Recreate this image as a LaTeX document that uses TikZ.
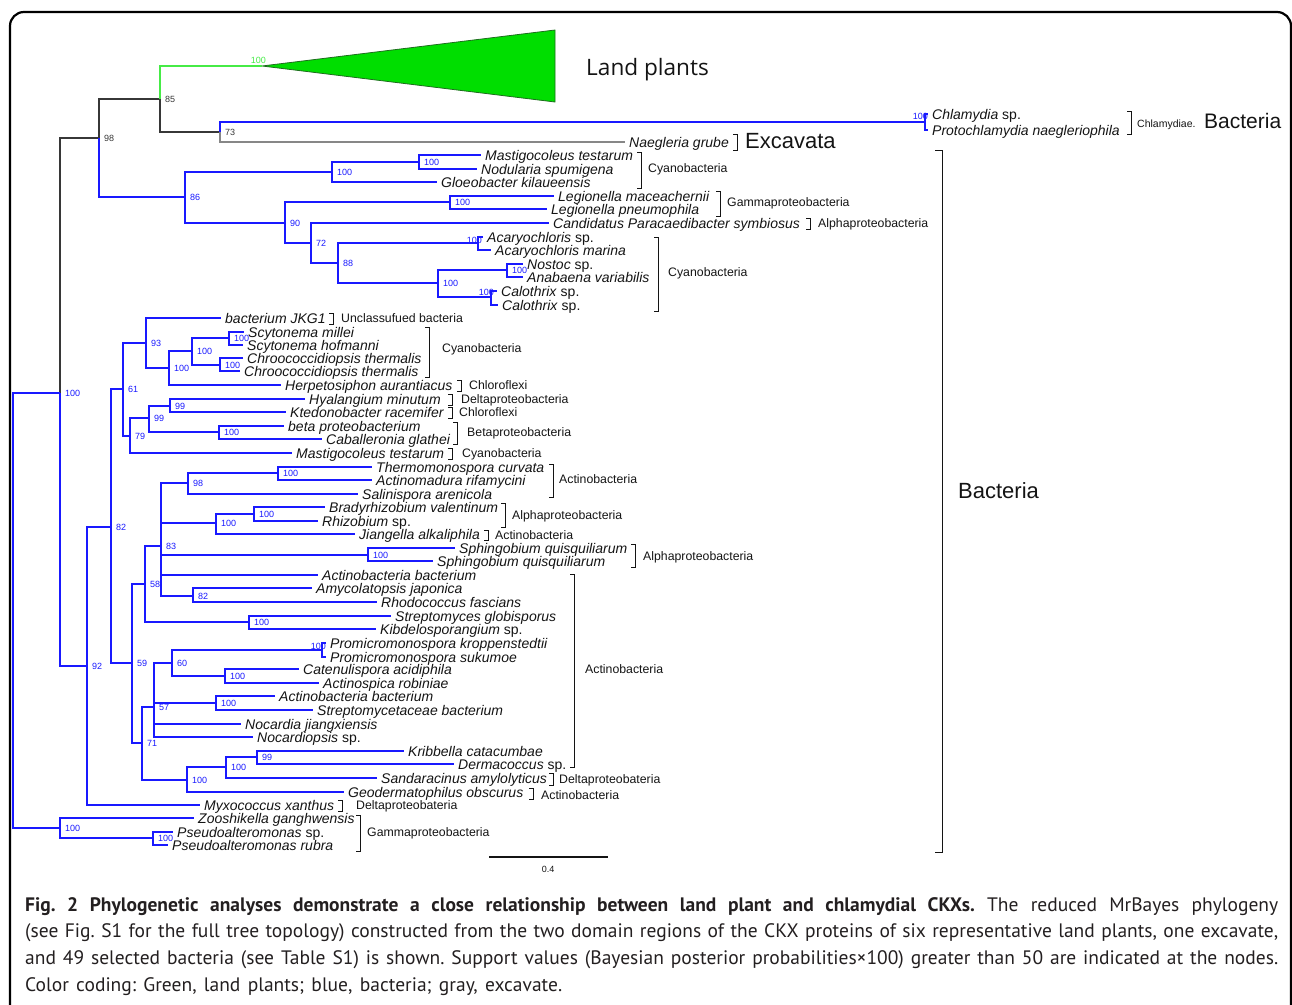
\documentclass[tikz,border=0pt]{standalone}
\usepackage{fontspec}
\setmainfont{Liberation Sans}
\newfontfamily\capfont{PT Sans}
\newfontfamily\lpfont{Open Sans}
\definecolor{tb}{RGB}{25,25,255}
\definecolor{tk}{RGB}{55,55,55}
\definecolor{tgl}{RGB}{70,235,70}
\definecolor{tgr}{RGB}{135,135,135}
\definecolor{tfill}{RGB}{0,222,0}
\definecolor{tdg}{RGB}{30,110,30}
\definecolor{txt}{RGB}{20,20,20}
\definecolor{capc}{RGB}{35,31,32}
\newcommand\lf[4]{\node[sptext] (#1) at (#2,#3) {#4};}
\newcommand\nd[3]{\coordinate (#1) at (#2,#3);}
\newcommand\supp[2]{\node[svs] (s#1) at (#1) {#2};}
\newcommand\brk[5]{\coordinate (#1a) at (#2,#3); \coordinate (#1b) at (#2,#4); \draw[bk] ([xshift=-#5pt]#1a) -- (#1a) -- (#1b) -- ([xshift=-#5pt]#1b);}
\newcommand\grp[4]{\node[gl] (#1) at (#2,#3) {#4};}
\begin{document}
\frenchspacing
\begin{tikzpicture}[x=1pt,y=-1pt,
 eb/.style={draw=tb, line width=1.7pt},
 ek/.style={draw=tk, line width=1.7pt},
 eg/.style={draw=tgl, line width=1.7pt},
 ey/.style={draw=tgr, line width=1.7pt},
 sptext/.style={anchor=west, inner xsep=4pt, inner ysep=0pt, text height=10pt, text depth=0pt, font=\fontsize{14}{16}\selectfont\itshape, text=txt},
 gl/.style={anchor=west, inner sep=0pt, text height=8.8pt, text depth=0pt, font=\fontsize{12.3}{14}\selectfont, text=txt},
 svs/.style={anchor=west, inner sep=0pt, xshift=5pt, text height=6.4pt, text depth=0pt, font=\fontsize{9}{10}\selectfont, text=tb},
 bk/.style={draw=txt, line width=1pt},
 bigtext/.style={anchor=west, inner sep=0pt, text height=15.8pt, text depth=0pt, font=\fontsize{22}{26}\selectfont, text=txt},
 captxt/.style={anchor=base west, inner sep=0pt, font=\capfont\fontsize{19.5}{22}\selectfont, text=capc}
]
\useasboundingbox (0,0) rectangle (1292,1004);
\draw[line width=2.2pt, rounded corners=14pt] (10,12) rectangle (1291,1040);

% ---------- internal nodes ----------
\nd{root}{13}{600}
\nd{n100a}{60}{393}
\nd{n98}{99}{138}
\nd{n85}{160}{99}
\nd{lp}{262}{66}
\nd{n73}{220}{132}
\nd{nchl}{925}{122}
\nd{n86}{185}{197}
\nd{n100c}{332}{172}
\nd{n100d}{419}{162}
\nd{n90}{285}{223}
\nd{nleg}{450}{202}
\nd{n72}{311}{243}
\nd{n88}{338}{263}
\nd{naca}{478}{243}
\nd{n100e}{438}{283}
\nd{nnos}{507}{270}
\nd{ncal}{491}{297}
\nd{n92}{87}{666}
\nd{n82}{111}{527}
\nd{n61}{123}{389}
\nd{n93}{146}{343}
\nd{n100f}{169}{368}
\nd{n100g}{192}{351}
\nd{nscy}{229}{338}
\nd{nchr}{220}{365}
\nd{n79}{130}{436}
\nd{n99a}{149}{418}
\nd{n99b}{170}{406}
\nd{n100h}{219}{432}
\nd{n59}{132}{663}
\nd{n58}{145}{584}
\nd{n83}{161}{546}
\nd{n98b}{188}{483}
\nd{n100t}{278}{473}
\nd{n100b}{216}{523}
\nd{n100br}{254}{514}
\nd{n100sp}{368}{555}
\nd{n82b}{193}{596}
\nd{n100s}{249}{622}
\nd{n71}{142}{743}
\nd{n57}{154}{707}
\nd{n60}{172}{663}
\nd{npro}{322}{650}
\nd{n100cat}{225}{676}
\nd{n100ab}{216}{703}
\nd{n100k}{187}{780}
\nd{n100kk}{226}{767}
\nd{n99k}{257}{757}
\nd{n100z}{60}{828}
\nd{n100ps}{153}{838}

% ---------- leaves ----------
\lf{Lchl1}{928}{114}{Chlamydia \textup{sp.}}
\lf{Lchl2}{928}{130}{Protochlamydia naegleriophila}
\lf{Lnae}{625}{142}{Naegleria grube}
\lf{Lmas1}{481}{155}{Mastigocoleus testarum}
\lf{Lnod}{477}{169}{Nodularia spumigena}
\lf{Lglo}{437}{182}{Gloeobacter kilaueensis}
\lf{Lleg1}{554}{196}{Legionella maceachernii}
\lf{Lleg2}{547}{209}{Legionella pneumophila}
\lf{Lcan}{549}{223}{Candidatus Paracaedibacter symbiosus}
\lf{Laca1}{483}{237}{Acaryochloris \textup{sp.}}
\lf{Laca2}{491}{250}{Acaryochloris marina}
\lf{Lnos}{523}{264}{Nostoc \textup{sp.}}
\lf{Lana}{523}{277}{Anabaena variabilis}
\lf{Lcal1}{497}{291}{Calothrix \textup{sp.}}
\lf{Lcal2}{498}{305}{Calothrix \textup{sp.}}
\lf{LJKG}{221}{318}{bacterium JKG1}
\lf{Lscy1}{244}{332}{Scytonema millei}
\lf{Lscy2}{243}{345}{Scytonema hofmanni}
\lf{Lchr1}{243}{358}{Chroococcidiopsis thermalis}
\lf{Lchr2}{240}{371}{Chroococcidiopsis thermalis}
\lf{Lher}{281}{385}{Herpetosiphon aurantiacus}
\lf{Lhya}{305}{399}{Hyalangium minutum}
\lf{Lkte}{286}{412}{Ktedonobacter racemifer}
\lf{Lbet}{284}{426}{beta proteobacterium}
\lf{Lcab}{322}{439}{Caballeronia glathei}
\lf{Lmas2}{292}{453}{Mastigocoleus testarum}
\lf{Lthe}{372}{467}{Thermomonospora curvata}
\lf{Lact}{372}{480}{Actinomadura rifamycini}
\lf{Lsal}{358}{494}{Salinispora arenicola}
\lf{Lbra}{325}{507}{Bradyrhizobium valentinum}
\lf{Lrhi}{318}{521}{Rhizobium \textup{sp.}}
\lf{Ljia}{355}{534}{Jiangella alkaliphila}
\lf{Lsph1}{455}{548}{Sphingobium quisquiliarum}
\lf{Lsph2}{433}{561}{Sphingobium quisquiliarum}
\lf{Lacb1}{318}{575}{Actinobacteria bacterium}
\lf{Lamy}{312}{588}{Amycolatopsis japonica}
\lf{Lrho}{377}{602}{Rhodococcus fascians}
\lf{Lstr}{391}{616}{Streptomyces globisporus}
\lf{Lkib}{376}{629}{Kibdelosporangium \textup{sp.}}
\lf{Lpro1}{326}{643}{Promicromonospora kroppenstedtii}
\lf{Lpro2}{326}{657}{Promicromonospora sukumoe}
\lf{Lcat}{299}{669}{Catenulispora acidiphila}
\lf{Lacs}{319}{683}{Actinospica robiniae}
\lf{Lacb2}{275}{696}{Actinobacteria bacterium}
\lf{Lstc}{313}{710}{Streptomycetaceae bacterium}
\lf{Lnoc}{241}{724}{Nocardia jiangxiensis}
\lf{Lnop}{253}{737}{Nocardiopsis \textup{sp.}}
\lf{Lkri}{404}{751}{Kribbella catacumbae}
\lf{Lder}{454}{764}{Dermacoccus \textup{sp.}}
\lf{Lsan}{377}{778}{Sandaracinus amylolyticus}
\lf{Lgeo}{344}{792}{Geodermatophilus obscurus}
\lf{Lmyx}{200}{805}{Myxococcus xanthus}
\lf{Lzoo}{194}{818}{Zooshikella ganghwensis}
\lf{Lps1}{173}{832}{Pseudoalteromonas \textup{sp.}}
\lf{Lps2}{168}{845}{Pseudoalteromonas rubra}

% ---------- land plants ----------
\coordinate (tr1) at (555,30);
\coordinate (tr2) at (555,102);
\filldraw[fill=tfill, draw=tdg, line width=0.8pt] (lp) -- (tr1) -- (tr2) -- cycle;

% ---------- edges ----------
\draw[ek] (n100a) |- (n98);
\draw[ek] (n98) |- (n85);
\draw[ek] (n85) |- (n73);
\draw[eg] (n85) |- (lp);
\draw[ey] (n73) |- (Lnae);
\foreach \a/\b in {root/n100a, root/n100z, n100a/n92, n98/n86,
 n73/nchl, nchl/Lchl1, nchl/Lchl2,
 n86/n100c, n86/n90, n100c/n100d, n100c/Lglo, n100d/Lmas1, n100d/Lnod,
 n90/nleg, n90/n72, nleg/Lleg1, nleg/Lleg2, n72/Lcan, n72/n88,
 n88/naca, n88/n100e, naca/Laca1, naca/Laca2, n100e/nnos, n100e/ncal,
 nnos/Lnos, nnos/Lana, ncal/Lcal1, ncal/Lcal2,
 n92/n82, n92/Lmyx, n82/n61, n82/n59, n61/n93, n61/n79,
 n93/LJKG, n93/n100f, n100f/n100g, n100f/Lher, n100g/nscy, n100g/nchr,
 nscy/Lscy1, nscy/Lscy2, nchr/Lchr1, nchr/Lchr2,
 n79/n99a, n79/Lmas2, n99a/n99b, n99a/n100h, n99b/Lhya, n99b/Lkte,
 n100h/Lbet, n100h/Lcab,
 n59/n58, n59/n71, n58/n83, n58/n100s,
 n83/n98b, n83/n100b, n83/n100sp, n83/Lacb1, n83/n82b,
 n98b/n100t, n98b/Lsal, n100t/Lthe, n100t/Lact,
 n100b/n100br, n100b/Ljia, n100br/Lbra, n100br/Lrhi,
 n100sp/Lsph1, n100sp/Lsph2, n82b/Lamy, n82b/Lrho, n100s/Lstr, n100s/Lkib,
 n71/n57, n71/n100k, n57/n60, n57/n100ab, n57/Lnoc, n57/Lnop,
 n60/npro, n60/n100cat, npro/Lpro1, npro/Lpro2, n100cat/Lcat, n100cat/Lacs,
 n100ab/Lacb2, n100ab/Lstc,
 n100k/n100kk, n100k/Lgeo, n100kk/n99k, n100kk/Lsan, n99k/Lkri, n99k/Lder,
 n100z/Lzoo, n100z/n100ps, n100ps/Lps1, n100ps/Lps2}
 {\draw[eb] (\a) |- (\b);}

% ---------- support values ----------
\node[svs, text=tk] (sn98) at (n98) {98};
\node[svs, text=tk] (sn85) at (n85) {85};
\node[svs, text=tk] (sn73) at (n73) {73};
\node[svs, text=tgl, anchor=east, xshift=0pt] (slp) at (261,60) {100};
\node[svs, anchor=east, xshift=0pt] (snchl) at (923,116) {100};
\node[svs, anchor=east, xshift=0pt] (snaca) at (477,240) {100};
\node[svs, anchor=east, xshift=0pt] (sncal) at (489,292) {100};
\node[svs, anchor=east, xshift=0pt] (snpro) at (321,646) {100};
\supp{n100a}{100}
\supp{n86}{86}
\supp{n100c}{100}
\supp{n100d}{100}
\supp{n90}{90}
\supp{nleg}{100}
\supp{n72}{72}
\supp{n88}{88}
\supp{n100e}{100}
\supp{nnos}{100}
\supp{n92}{92}
\supp{n82}{82}
\supp{n61}{61}
\supp{n93}{93}
\supp{n100f}{100}
\supp{n100g}{100}
\supp{nscy}{100}
\supp{nchr}{100}
\supp{n79}{79}
\supp{n99a}{99}
\supp{n99b}{99}
\supp{n100h}{100}
\supp{n59}{59}
\supp{n58}{58}
\supp{n83}{83}
\supp{n98b}{98}
\supp{n100t}{100}
\supp{n100b}{100}
\supp{n100br}{100}
\supp{n100sp}{100}
\supp{n82b}{82}
\supp{n100s}{100}
\supp{n71}{71}
\supp{n57}{57}
\supp{n60}{60}
\supp{n100cat}{100}
\supp{n100ab}{100}
\supp{n100k}{100}
\supp{n100kk}{100}
\supp{n99k}{99}
\supp{n100z}{100}
\supp{n100ps}{100}

% ---------- brackets and group labels ----------
\brk{bchl}{1131}{111}{134}{4}
\node[gl, font=\fontsize{10.5}{12}\selectfont, text height=7.5pt] (gchl) at (1137,124) {Chlamydiae.};
\node[bigtext, font=\fontsize{21}{25}\selectfont] (gbac1) at (1204,121) {Bacteria};
\brk{bexc}{737}{134}{150}{4}
\node[bigtext] (gexc) at (745,141) {Excavata};
\node[bigtext, font=\lpfont\fontsize{22.6}{27}\selectfont, text height=16.2pt] (glp) at (586,67) {Land plants};
\brk{bbac}{942}{150}{852}{7}
\node[bigtext] (gbac2) at (958,491) {Bacteria};
\brk{bcy1}{641}{152}{188}{4}
\grp{gcy1}{648}{168}{Cyanobacteria}
\brk{bgam}{720}{191}{216}{4}
\grp{ggam}{727}{202}{Gammaproteobacteria}
\brk{balp1}{810}{218}{229}{4}
\grp{galp1}{818}{223}{Alphaproteobacteria}
\brk{bcy2}{658}{237}{311}{4}
\grp{gcy2}{668}{272}{Cyanobacteria}
\brk{bunc}{333}{313}{324}{4}
\grp{gunc}{341}{318}{Unclassufued bacteria}
\brk{bcy3}{429}{327}{377}{4}
\grp{gcy3}{442}{348}{Cyanobacteria}
\brk{bchf1}{461}{380}{391}{4}
\grp{gchf1}{469}{385}{Chloroflexi}
\brk{bdel1}{452}{394}{405}{4}
\grp{gdel1}{461}{399}{Deltaproteobacteria}
\brk{bchf2}{452}{407}{418}{4}
\grp{gchf2}{459}{412}{Chloroflexi}
\brk{bbet}{457}{422}{444}{4}
\grp{gbet}{467}{432}{Betaproteobacteria}
\brk{bcy4}{452}{448}{459}{4}
\grp{gcy4}{462}{453}{Cyanobacteria}
\brk{bact1}{553}{464}{497}{4}
\grp{gact1}{559}{479}{Actinobacteria}
\brk{balp2}{505}{503}{527}{4}
\grp{galp2}{512}{515}{Alphaproteobacteria}
\brk{bact2}{488}{530}{540}{4}
\grp{gact2}{495}{535}{Actinobacteria}
\brk{balp3}{635}{544}{567}{4}
\grp{galp3}{643}{556}{Alphaproteobacteria}
\brk{bact3}{574}{574}{767}{4}
\grp{gact3}{585}{669}{Actinobacteria}
\brk{bdel2}{553}{773}{785}{4}
\grp{gdel2}{559}{779}{Deltaproteobateria}
\brk{bact4}{533}{788}{799}{4}
\grp{gact4}{541}{795}{Actinobacteria}
\brk{bdel3}{342}{800}{811}{4}
\grp{gdel3}{356}{805}{Deltaproteobateria}
\brk{bgam2}{360}{815}{851}{4}
\grp{ggam2}{367}{832}{Gammaproteobacteria}

% ---------- scale bar ----------
\coordinate (sb1) at (489,857);
\coordinate (sb2) at (608,857);
\draw[draw=txt, line width=1.1pt] (sb1) -- (sb2);
\node[gl, font=\fontsize{9}{11}\selectfont, text height=6.4pt, anchor=center] (sbl) at (548,869) {0.4};

% ---------- caption ----------
\node[captxt] (c1) at (25,911) {\makebox[1253pt][s]{\textbf{Fig. 2 Phylogenetic analyses demonstrate a close relationship between land plant and chlamydial CKXs.} The reduced MrBayes phylogeny}};
\node[captxt] (c2) at (25,937) {\makebox[1253pt][s]{(see Fig. S1 for the full tree topology) constructed from the two domain regions of the CKX proteins of six representative land plants, one excavate,}};
\node[captxt] (c3) at (25,964) {\makebox[1253pt][s]{and 49 selected bacteria (see Table S1) is shown. Support values (Bayesian posterior probabilities×100) greater than 50 are indicated at the nodes.}};
\node[captxt] (c4) at (25,991) {\makebox[537pt][s]{Color coding: Green, land plants; blue, bacteria; gray, excavate.}};
\end{tikzpicture}
\end{document}
